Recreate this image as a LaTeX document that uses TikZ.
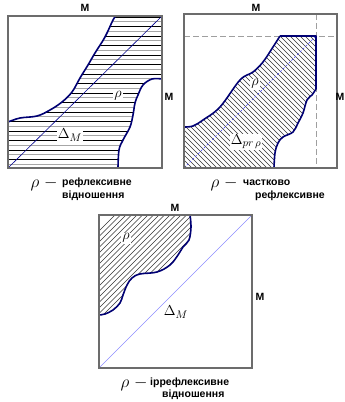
\documentclass[tikz,border=0pt]{standalone}
\usepackage{fontspec}
\newfontfamily\capfont{Liberation Sans}
\begin{document}
\begin{tikzpicture}[x=1pt,y=-1pt,
  frame/.style={draw=gray!85!black,line width=1.1pt},
  bound/.style={draw=blue!45!black,line width=1.6pt,line join=round},
  capt/.style={font=\capfont\bfseries\fontsize{10.5}{11}\selectfont,inner sep=0pt},
  msym/.style={font=\capfont\bfseries\fontsize{10.5}{11}\selectfont,inner sep=0pt},
  rho/.style={font=\fontsize{16}{16}\selectfont,inner sep=0pt},
  lab/.style={font=\fontsize{15}{15}\selectfont,fill=white,inner sep=1pt},
  hatch/.style={line width=0.6pt}]
\useasboundingbox (0,0) rectangle (345,402);

% ---------------- Box 1 ----------------
\begin{scope}
\clip (8,168) -- (8,122) -- plot[smooth,tension=0.6] coordinates {(8,122) (20,118) (37,116) (50,110) (62,102) (72,92) (80,78) (88,65) (95,53) (105,37) (113,20) (116,16)} -- (162,16) -- (162,79)
 -- plot[smooth,tension=0.6] coordinates {(162,79) (152,79) (143,85) (138,95) (135,103) (133,115) (130,127) (123,140) (119,150) (118,168)} -- cycle;
\foreach \i in {0,...,32}{
  \ifodd\i \def\hc{gray!70}\else\def\hc{black}\fi
  \draw[hatch,\hc] (8,{17+\i*4.75}) -- (162,{17+\i*4.75});
}
\end{scope}
\draw[blue!55!black,line width=0.6pt] (8,168) -- (162,16);
\draw[bound] plot[smooth,tension=0.6] coordinates {(8,122) (20,118) (37,116) (50,110) (62,102) (72,92) (80,78) (88,65) (95,53) (105,37) (113,20) (116,16)};
\draw[bound] plot[smooth,tension=0.6] coordinates {(162,79) (152,79) (143,85) (138,95) (135,103) (133,115) (130,127) (123,140) (119,150) (118,168)};
\draw[frame] (8,16) rectangle (162,168);
\node[lab] (r1) at (118,96) {$\rho$};
\node[lab] (d1) at (70,135) {$\Delta_M$};
\node[msym] (m1t) at (85,8) {M};
\node[msym] (m1r) at (169,97) {M};
\node[rho] (c1r) at (44,184) {$\rho\;{-}$};
\node[capt,anchor=west] (c1a) at (62,183) {рефлексивне};
\node[capt,anchor=west] (c1b) at (62,196) {відношення};

% ---------------- Box 2 ----------------
\draw[gray!75,line width=0.8pt,dash pattern=on 6pt off 3pt] (184,36) -- (337,36);
\draw[gray!75,line width=0.8pt,dash pattern=on 6pt off 3pt] (316,14) -- (316,168);
\begin{scope}
\clip (280,36) -- (316,36) -- (316,89) -- plot[smooth,tension=0.6] coordinates {(316,89) (312,95) (307,100) (303,113) (298,123) (293,132) (283,137) (278,143) (275,153) (274,168)} -- (184,168) -- (184,127)
 -- plot[smooth,tension=0.6] coordinates {(184,127) (193,126) (203,120) (220,107) (240,80) (253,72) (263,62) (273,47) (280,36)} -- cycle;
\foreach \i in {0,...,60}{
  \draw[hatch,black!80] ({34+\i*5},30) -- ({34+\i*5+150},180);
}
\end{scope}
\draw[blue!70,line width=0.7pt,dash pattern=on 2pt off 2pt] (184,168) -- (316,36);
\draw[bound] (280,36) -- (316,36) -- (316,89) plot[smooth,tension=0.6] coordinates {(316,89) (312,95) (307,100) (303,113) (298,123) (293,132) (283,137) (278,143) (275,153) (274,168)};
\draw[bound] plot[smooth,tension=0.6] coordinates {(184,127) (193,126) (203,120) (220,107) (240,80) (253,72) (263,62) (273,47) (280,36)};
\draw[frame] (184,14) rectangle (337,168);
\node[lab] (r2) at (255,84) {$\rho$};
\node[lab] (d2) at (246,142) {$\Delta_{pr\,\rho}$};
\node[msym] (m2t) at (256,8) {M};
\node[msym] (m2r) at (340,97) {M};
\node[rho] (c2r) at (224,184) {$\rho\;{-}$};
\node[capt,anchor=west] (c2a) at (243,183) {частково};
\node[capt,anchor=west] (c2b) at (255,196) {рефлексивне};

% ---------------- Box 3 ----------------
\begin{scope}
\clip (99,215) -- (190,215) -- plot[smooth,tension=0.6] coordinates {(190,215) (191,227) (189,240) (183,247) (178,255) (170,265) (157,272) (140,274) (132,278) (127,285) (123,295) (120,303) (113,310) (105,314) (99,315)} -- cycle;
\foreach \i in {0,...,50}{
  \draw[hatch,black!80] ({\i*5.5},330) -- ({\i*5.5+130},200);
}
\end{scope}
\draw[blue!45,line width=0.6pt] (99,368) -- (252,215);
\draw[bound] plot[smooth,tension=0.6] coordinates {(190,215) (191,227) (189,240) (183,247) (178,255) (170,265) (157,272) (140,274) (132,278) (127,285) (123,295) (120,303) (113,310) (105,314) (99,315)};
\draw[frame] (99,215) rectangle (252,368);
\node[lab] (r3) at (126,238) {$\rho$};
\node[lab] (d3) at (176,312) {$\Delta_M$};
\node[msym] (m3t) at (175,208) {M};
\node[msym] (m3r) at (260,297) {M};
\node[rho] (c3r) at (134,384) {$\rho\;{-}$};
\node[capt,anchor=west] (c3a) at (150,383) {іррефлексивне};
\node[capt,anchor=west] (c3b) at (162,395) {відношення};
\end{tikzpicture}
\end{document}
